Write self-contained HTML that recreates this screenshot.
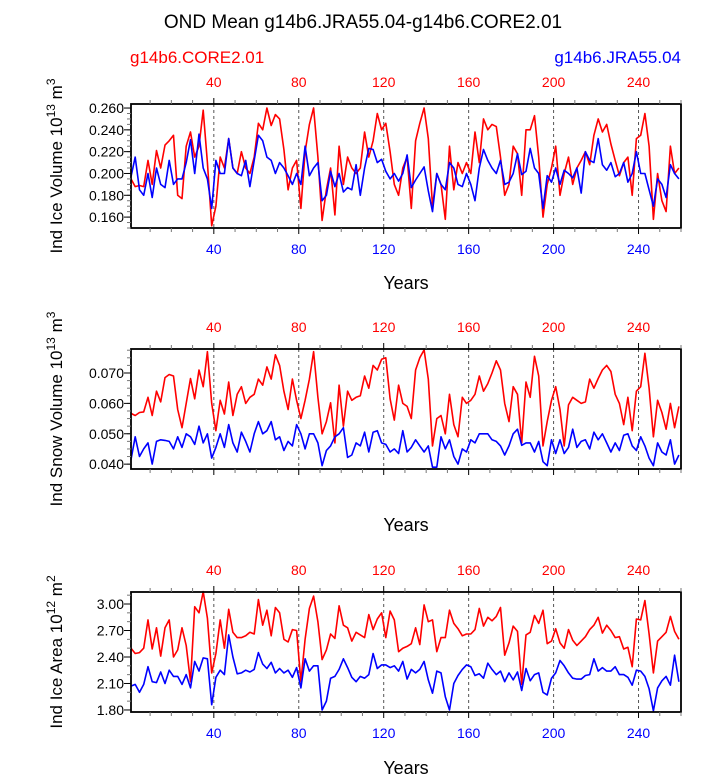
<!DOCTYPE html>
<html><head><meta charset="utf-8"><style>
body{margin:0;background:#fff;}
svg text{font-family:"Liberation Sans",sans-serif;}
</style></head><body>
<svg id="chart" width="723" height="775" viewBox="0 0 723 775" xmlns="http://www.w3.org/2000/svg">
<text x="363" y="28" font-size="19" text-anchor="middle">OND Mean g14b6.JRA55.04-g14b6.CORE2.01</text>
<text x="130" y="63" font-size="17" fill="#ff0000">g14b6.CORE2.01</text>
<text x="681" y="63" font-size="17" fill="#0000ff" text-anchor="end">g14b6.JRA55.04</text>
</svg>
<script>
const years=[1,3,5,7,9,11,13,15,17,19,21,23,25,27,29,31,33,35,37,39,41,43,45,47,49,51,53,55,57,59,61,63,65,67,69,71,73,75,77,79,81,83,85,87,89,91,93,95,97,99,101,103,105,107,109,111,113,115,117,119,121,123,125,127,129,131,133,135,137,139,141,143,145,147,149,151,153,155,157,159,161,163,165,167,169,171,173,175,177,179,181,183,185,187,189,191,193,195,197,199,201,203,205,207,209,211,213,215,217,219,221,223,225,227,229,231,233,235,237,239,241,243,245,247,249,251,253,255,257,259];
const xTicks=[40,80,120,160,200,240];
const volTicks=[0.160,0.180,0.200,0.220,0.240,0.260];
const snowTicks=[0.040,0.050,0.060,0.070];
const areaTicks=[1.80,2.10,2.40,2.70,3.00];
const volRed=[0.195,0.188,0.189,0.188,0.212,0.190,0.221,0.205,0.226,0.230,0.235,0.180,0.177,0.225,0.238,0.215,0.225,0.258,0.210,0.152,0.170,0.215,0.205,0.232,0.205,0.200,0.220,0.205,0.200,0.215,0.246,0.240,0.260,0.244,0.254,0.250,0.222,0.185,0.205,0.212,0.168,0.220,0.245,0.260,0.215,0.157,
0.185,0.205,0.162,0.225,0.190,0.215,0.205,0.200,0.205,0.238,0.215,0.230,0.255,0.240,0.246,0.220,0.190,0.180,0.205,0.215,0.168,0.230,0.246,0.260,0.232,0.170,0.200,0.190,0.158,0.225,0.185,0.210,0.200,0.210,0.200,0.238,0.210,0.250,0.240,0.245,0.243,0.215,0.180,0.190,0.225,0.218,
0.180,0.240,0.240,0.253,0.215,0.160,0.190,0.205,0.225,0.180,0.200,0.215,0.190,0.205,0.212,0.220,0.208,0.235,0.250,0.238,0.245,0.227,0.212,0.198,0.210,0.215,0.180,0.232,0.235,0.255,0.225,0.158,0.200,0.175,0.165,0.225,0.200,0.205];
const volBlue=[0.197,0.215,0.185,0.180,0.200,0.178,0.205,0.190,0.187,0.212,0.190,0.195,0.195,0.210,0.231,0.200,0.236,0.205,0.195,0.168,0.212,0.200,0.200,0.232,0.205,0.200,0.198,0.212,0.188,0.212,0.235,0.230,0.215,0.212,0.200,0.210,0.205,0.198,0.190,0.200,0.190,0.225,0.198,0.205,0.210,0.175,
0.180,0.202,0.188,0.200,0.183,0.187,0.185,0.208,0.180,0.205,0.223,0.222,0.210,0.213,0.202,0.195,0.200,0.193,0.200,0.217,0.187,0.194,0.200,0.206,0.184,0.165,0.200,0.190,0.185,0.210,0.205,0.190,0.188,0.200,0.190,0.175,0.205,0.222,0.212,0.205,0.200,0.212,0.190,0.192,0.200,0.218,
0.199,0.202,0.223,0.205,0.200,0.168,0.198,0.192,0.205,0.190,0.203,0.200,0.196,0.205,0.182,0.220,0.212,0.210,0.232,0.208,0.203,0.210,0.197,0.200,0.210,0.192,0.200,0.220,0.200,0.200,0.185,0.170,0.195,0.190,0.178,0.208,0.200,0.195];
const snowRed=[0.0567,0.0560,0.0570,0.0572,0.0620,0.0560,0.0640,0.0605,0.0685,0.0695,0.0690,0.0580,0.0520,0.0600,0.0682,0.0615,0.0710,0.0655,0.0770,0.0600,0.0510,0.0610,0.0565,0.0670,0.0560,0.0630,0.0655,0.0600,0.0620,0.0630,0.0680,0.0660,0.0720,0.0680,0.0760,0.0725,0.0640,0.0580,0.0680,0.0610,0.0550,0.0610,0.0680,0.0770,0.0620,0.0500,
0.0540,0.0602,0.0470,0.0660,0.0525,0.0640,0.0610,0.0620,0.0625,0.0690,0.0650,0.0725,0.0710,0.0745,0.0750,0.0615,0.0545,0.0660,0.0600,0.0590,0.0550,0.0710,0.0750,0.0776,0.0680,0.0460,0.0550,0.0560,0.0500,0.0630,0.0530,0.0490,0.0620,0.0600,0.0610,0.0630,0.0690,0.0640,0.0665,0.0700,0.0740,0.0710,0.0600,0.0540,0.0655,0.0630,
0.0470,0.0670,0.0620,0.0755,0.0690,0.0460,0.0540,0.0610,0.0655,0.0580,0.0460,0.0595,0.0620,0.0610,0.0600,0.0605,0.0680,0.0650,0.0682,0.0710,0.0725,0.0705,0.0630,0.0600,0.0530,0.0620,0.0510,0.0640,0.0655,0.0765,0.0650,0.0490,0.0610,0.0570,0.0515,0.0600,0.0520,0.0590];
const snowBlue=[0.0415,0.0490,0.0425,0.0450,0.0470,0.0400,0.0475,0.0480,0.0478,0.0475,0.0450,0.0490,0.0455,0.0500,0.0490,0.0465,0.0525,0.0470,0.0500,0.0420,0.0455,0.0500,0.0455,0.0530,0.0470,0.0440,0.0505,0.0475,0.0440,0.0500,0.0540,0.0500,0.0510,0.0540,0.0480,0.0490,0.0445,0.0475,0.0460,0.0530,0.0500,0.0450,0.0500,0.0500,0.0470,0.0395,
0.0445,0.0460,0.0490,0.0500,0.0520,0.0422,0.0430,0.0470,0.0460,0.0505,0.0440,0.0505,0.0510,0.0470,0.0465,0.0440,0.0450,0.0435,0.0510,0.0440,0.0455,0.0480,0.0460,0.0440,0.0460,0.0390,0.0390,0.0490,0.0450,0.0480,0.0425,0.0400,0.0450,0.0440,0.0480,0.0470,0.0500,0.0500,0.0500,0.0480,0.0475,0.0460,0.0430,0.0460,0.0500,0.0515,
0.0462,0.0470,0.0470,0.0440,0.0475,0.0408,0.0395,0.0480,0.0435,0.0480,0.0435,0.0455,0.0515,0.0455,0.0475,0.0480,0.0450,0.0505,0.0480,0.0500,0.0470,0.0440,0.0470,0.0445,0.0495,0.0500,0.0460,0.0445,0.0490,0.0460,0.0420,0.0395,0.0470,0.0440,0.0430,0.0480,0.0400,0.0430];
const areaRed=[2.50,2.44,2.45,2.50,2.82,2.49,2.73,2.41,2.73,2.82,2.40,2.48,2.73,2.53,2.12,2.97,2.90,3.14,2.84,2.22,2.44,2.82,2.50,2.94,2.68,2.62,2.62,2.64,2.68,2.66,3.05,2.76,2.93,2.64,2.96,2.90,2.60,2.57,2.71,2.70,2.12,2.60,2.95,3.09,2.80,2.37,
2.48,2.66,2.61,2.98,2.76,2.73,2.58,2.68,2.65,2.62,2.88,2.71,2.83,2.90,2.62,2.92,2.82,2.46,2.50,2.52,2.55,2.73,2.54,2.99,2.80,2.82,2.46,2.62,2.62,2.93,2.78,2.72,2.64,2.66,2.66,2.71,2.95,2.75,2.85,2.81,2.86,2.96,2.42,2.56,2.75,2.69,
2.09,2.65,2.68,2.87,2.78,2.93,2.55,2.58,2.72,2.56,2.50,2.71,2.59,2.53,2.58,2.63,2.71,2.76,2.85,2.67,2.76,2.70,2.62,2.63,2.49,2.51,2.29,2.83,2.82,3.04,2.66,2.22,2.58,2.63,2.68,2.86,2.69,2.60];
const areaBlue=[2.07,2.09,2.00,2.09,2.29,2.12,2.11,2.23,2.10,2.25,2.18,2.18,2.09,2.20,2.05,2.35,2.24,2.39,2.38,1.86,2.17,2.25,2.20,2.65,2.40,2.21,2.22,2.25,2.23,2.26,2.45,2.32,2.27,2.34,2.22,2.27,2.22,2.25,2.17,2.28,2.05,2.38,2.24,2.30,2.30,1.80,
1.90,2.16,2.18,2.26,2.38,2.28,2.17,2.12,2.18,2.16,2.20,2.44,2.27,2.31,2.31,2.28,2.30,2.24,2.35,2.15,2.26,2.22,2.26,2.35,2.14,1.99,2.24,2.22,1.95,1.80,2.10,2.19,2.26,2.31,2.29,2.19,2.21,2.16,2.33,2.26,2.20,2.24,2.12,2.22,2.14,2.23,
2.02,2.27,2.13,2.20,2.22,2.00,1.97,2.16,2.22,2.36,2.30,2.22,2.16,2.15,2.15,2.19,2.20,2.38,2.24,2.28,2.24,2.24,2.29,2.20,2.20,2.17,2.08,2.25,2.24,2.18,2.04,1.79,2.05,2.13,2.18,2.08,2.42,2.12];

const NS="http://www.w3.org/2000/svg";
const svg=document.getElementById('chart');
function mk(tag,attrs,parent){const e=document.createElementNS(NS,tag);for(const k in attrs)e.setAttribute(k,attrs[k]);(parent||svg).appendChild(e);return e;}
const X0=131,X1=681,XMIN=1,XMAX=260;
function xs(v){return X0+(v-XMIN)/(XMAX-XMIN)*(X1-X0);}

function panel(o){
  const g=mk('g',{});
  
  
  const ys=v=>o.y1-(v-o.ymin)/(o.ymax-o.ymin)*(o.y1-o.y0);
  // dashed gridlines
  xTicks.forEach(t=>{
    const l=mk('line',{x1:xs(t),x2:xs(t),y1:o.y0,y2:o.y1,stroke:'#555','stroke-width':1,'stroke-dasharray':'3,3'},g);
    
    
  });
  // series
  [[o.red,'#ff0000','core2'],[o.blue,'#0000ff','jra55']].forEach(([arr,c,n])=>{
    let d='';
    const n2=Math.min(arr.length,years.length);
    for(let i=0;i<n2;i++){d+=(i?'L':'M')+xs(years[i]).toFixed(1)+','+ys(arr[i]).toFixed(1);}
    const p=mk('path',{d:d,fill:'none',stroke:c,'stroke-width':1.6,'stroke-linejoin':'round'},g);
    
    
  });
  // frame
  const f=mk('rect',{x:X0,y:o.y0,width:X1-X0,height:o.y1-o.y0,fill:'none',stroke:'#000','stroke-width':1.8},g);
  
  
  // x minor & major ticks
  for(let t=10;t<=XMAX;t+=10){
    const major=t%40===0, len=major?6:4;
    mk('line',{x1:xs(t),x2:xs(t),y1:o.y0,y2:o.y0-len,stroke:major?'#000':'#777','stroke-width':1},g);
    mk('line',{x1:xs(t),x2:xs(t),y1:o.y1,y2:o.y1+len,stroke:major?'#000':'#777','stroke-width':1},g);
  }
  xTicks.forEach(t=>{
    const a=mk('text',{x:xs(t),y:o.y0-17,'font-size':14,fill:'#ff0000','text-anchor':'middle'},g);a.textContent=t;
    
    
    if(o.bottomLabels){
      const b=mk('text',{x:xs(t),y:o.y1+26,'font-size':14,fill:'#0000ff','text-anchor':'middle'},g);b.textContent=t;
      
      
    }
  });
  // y minor ticks
  for(let v=o.ymin0;v<=o.ymax+1e-9;v+=o.minor){
    if(v<o.ymin-1e-9)continue;
    mk('line',{x1:X0,x2:X0-4,y1:ys(v),y2:ys(v),stroke:'#777','stroke-width':1},g);
  }
  o.ticks.forEach(t=>{
    mk('line',{x1:X0,x2:X0-7,y1:ys(t),y2:ys(t),stroke:'#000','stroke-width':1},g);
    const l=mk('text',{x:X0-7,y:ys(t)+5,'font-size':14,'text-anchor':'end'},g);l.textContent=t.toFixed(o.dec);
    
    
  });
  const cy=(o.y0+o.y1)/2;
  const yt=mk('text',{x:0,y:0,'font-size':17,'text-anchor':'middle',transform:`translate(62,${cy}) rotate(-90)`},g);
  yt.innerHTML=o.ytitle;
  
  
  const xt=mk('text',{x:406,y:o.yearsY,'font-size':18,'text-anchor':'middle'},g);xt.textContent='Years';
  
  
}
panel({name:'ice-volume',y0:104,y1:228,ymin:0.15,ymax:0.2637,ymin0:0.15,minor:0.005,ticks:volTicks,dec:3,red:volRed,blue:volBlue,bottomLabels:true,yearsY:289,
 ytitle:'Ind Ice Volume 10<tspan dy="-7" font-size="12">13</tspan><tspan dy="7"> m</tspan><tspan dy="-7" font-size="12">3</tspan>'});
panel({name:'snow-volume',y0:349,y1:469,ymin:0.0384,ymax:0.0779,ymin0:0.0400,minor:0.0025,ticks:snowTicks,dec:3,red:snowRed,blue:snowBlue,bottomLabels:false,yearsY:531,
 ytitle:'Ind Snow Volume 10<tspan dy="-7" font-size="12">13</tspan><tspan dy="7"> m</tspan><tspan dy="-7" font-size="12">3</tspan>'});
panel({name:'ice-area',y0:592,y1:712,ymin:1.777,ymax:3.136,ymin0:1.8,minor:0.1,ticks:areaTicks,dec:2,red:areaRed,blue:areaBlue,bottomLabels:true,yearsY:774,
 ytitle:'Ind Ice Area 10<tspan dy="-7" font-size="12">12</tspan><tspan dy="7"> m</tspan><tspan dy="-7" font-size="12">2</tspan>'});
</script>
</body></html>
